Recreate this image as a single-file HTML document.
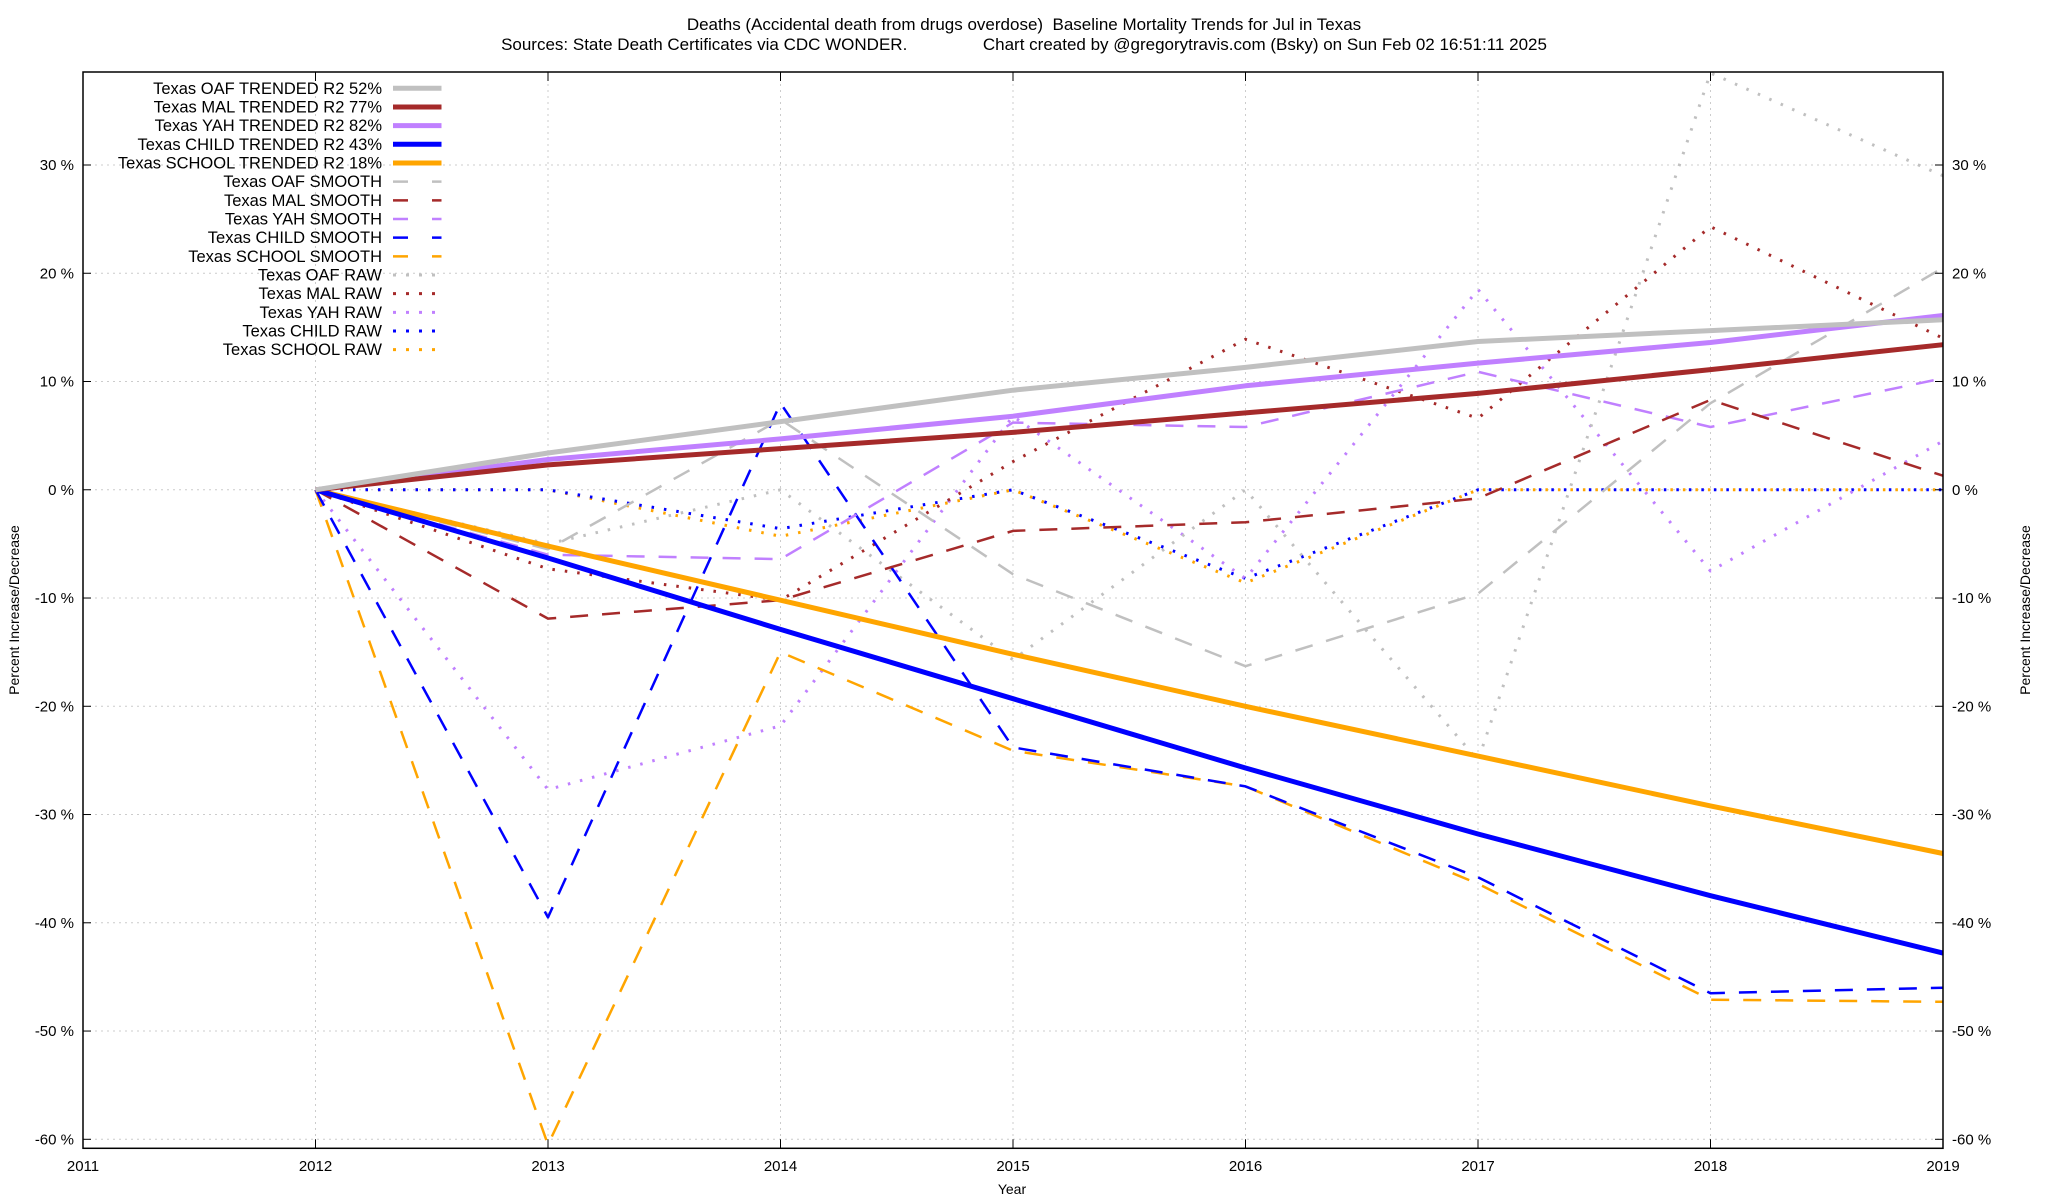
<!DOCTYPE html>
<html><head><meta charset="utf-8"><style>
html,body{margin:0;padding:0;background:#fff;}
svg{display:block;font-family:"Liberation Sans",sans-serif;}
</style></head><body>
<svg id="chart" width="2048" height="1200" viewBox="0 0 2048 1200" xmlns="http://www.w3.org/2000/svg">
<text x="1024" y="30" font-size="17" text-anchor="middle" xml:space="preserve">Deaths (Accidental death from drugs overdose)  Baseline Mortality Trends for Jul in Texas</text>
<text x="1024" y="50" font-size="17" text-anchor="middle" xml:space="preserve">Sources: State Death Certificates via CDC WONDER.                Chart created by @gregorytravis.com (Bsky) on Sun Feb 02 16:51:11 2025</text>
<g id="grid"></g>
<g id="series"></g>
<g id="legend"></g>
<rect x="83" y="72" width="1860" height="1076.3" fill="none" stroke="#000" stroke-width="1.5"/>
<g id="axes"></g>
<text x="1012" y="1194" font-size="14" text-anchor="middle">Year</text>
<text transform="translate(19,610) rotate(-90)" font-size="14" text-anchor="middle">Percent Increase/Decrease</text>
<text transform="translate(2030,610) rotate(-90)" font-size="14" text-anchor="middle">Percent Increase/Decrease</text>
</svg>
<script>
const years = [2012,2013,2014,2015,2016,2017,2018,2019];
const xTicks = [2011,2012,2013,2014,2015,2016,2017,2018,2019];
const yTicks = [-60,-50,-40,-30,-20,-10,0,10,20,30];
const oafTrend   = [0,3.4,6.3,9.2,11.3,13.7,14.7,15.7];
const malTrend   = [0,2.3,3.8,5.3,7.1,8.9,11.1,13.4];
const yahTrend   = [0,2.8,4.7,6.8,9.6,11.7,13.6,16.1];
const childTrend = [0,-6.3,-12.9,-19.3,-25.7,-31.8,-37.5,-42.8];
const schoolTrend= [0,-5.2,-10.2,-15.2,-20.0,-24.6,-29.2,-33.6];
const oafSmooth   = [0,-5.5,6.5,-7.8,-16.3,-9.6,8,20.5];
const malSmooth   = [0,-11.9,-10.2,-3.8,-3,-0.8,8.3,1.3];
const yahSmooth   = [0,-6,-6.4,6.2,5.8,10.9,5.8,10.3];
const childSmooth = [0,-39.5,8,-23.8,-27.4,-35.8,-46.5,-46];
const schoolSmooth= [0,-60.5,-15,-24.1,-27.4,-36.4,-47.1,-47.3];
const oafRaw   = [0,-5,0,-15.7,0,-25,38.5,29];
const malRaw   = [0,-7.3,-10.2,2.6,13.9,6.6,24.3,14];
const yahRaw   = [0,-27.7,-21.8,6.8,-8.2,18.5,-7.5,4.5];
const childRaw = [0,0,-3.6,0,-8.2,0,0,0];
const schoolRaw= [0,0,-4.3,0,-8.6,0,0,0];
const labels = ["Texas OAF TRENDED R2  52%","Texas MAL TRENDED R2  77%","Texas YAH TRENDED R2  82%","Texas CHILD TRENDED R2  43%","Texas SCHOOL TRENDED R2  18%","Texas OAF SMOOTH","Texas MAL SMOOTH","Texas YAH SMOOTH","Texas CHILD SMOOTH","Texas SCHOOL SMOOTH","Texas OAF RAW","Texas MAL RAW","Texas YAH RAW","Texas CHILD RAW","Texas SCHOOL RAW"];

const NS="http://www.w3.org/2000/svg";
const X0=83,X1=1943,Y30=165,Y60=1139.3,YT=72,YB=1148.3;
function xs(v){return X0+(v-2011)*(X1-X0)/8;}
function ys(v){return Y30+(30-v)*(Y60-Y30)/90;}
function mk(tag,attrs,parent){const e=document.createElementNS(NS,tag);for(const k in attrs)e.setAttribute(k,attrs[k]);parent.appendChild(e);return e;}
const grid=document.getElementById('grid'),axes=document.getElementById('axes'),ser=document.getElementById('series'),leg=document.getElementById('legend');
xTicks.forEach(t=>{
  const x=xs(t);
  const g=mk('line',{x1:x,x2:x,y1:YT,y2:YB,stroke:'#ccc','stroke-dasharray':'2,4'},grid);
  
  
  const tk=mk('line',{x1:x,x2:x,y1:YB,y2:YB-9,stroke:'#000'},axes);
  
  
  const tk2=mk('line',{x1:x,x2:x,y1:YT,y2:YT+9,stroke:'#000'},axes);
  
  
  const tx=mk('text',{x:x,y:1171,'font-size':15,'text-anchor':'middle'},axes);tx.textContent=t;
  
  
});
yTicks.forEach(t=>{
  const y=ys(t);
  const g=mk('line',{x1:X0,x2:X1,y1:y,y2:y,stroke:'#ccc','stroke-dasharray':'2,4'},grid);
  
  
  const a=mk('line',{x1:X0,x2:X0+8,y1:y,y2:y,stroke:'#000'},axes);
  
  
  const b=mk('line',{x1:X1-8,x2:X1,y1:y,y2:y,stroke:'#000'},axes);
  
  
  const l=mk('text',{x:74,y:y+5,'font-size':15,'text-anchor':'end'},axes);l.textContent=t+' %';
  
  
  const r=mk('text',{x:1952,y:y+5,'font-size':15},axes);r.textContent=t+' %';
  
  
});
const colors=['#c0c0c0','#a52a2a','#c080ff','#0000ff','#ffa500'];
const keys=['oaf','mal','yah','child','school'];
const trends=[oafTrend,malTrend,yahTrend,childTrend,schoolTrend];
const smooths=[oafSmooth,malSmooth,yahSmooth,childSmooth,schoolSmooth];
const raws=[oafRaw,malRaw,yahRaw,childRaw,schoolRaw];
const styles=[{w:5,d:null},{w:2.5,d:'18,14'},{w:3,d:'2.5,10'}];
function draw(arr,c,st,name){
  const pts=arr.map((v,i)=>xs(years[i]).toFixed(1)+','+ys(v).toFixed(1)).join(' ');
  const a={points:pts,fill:'none',stroke:c,'stroke-width':st.w,'stroke-linejoin':'round'};
  if(st.d){a['stroke-dasharray']=st.d;}
  const p=mk('polyline',a,ser);
  
  
}
for(let i=4;i>=0;i--)draw(raws[i],colors[i],styles[2],keys[i]+'-raw-line');
for(let i=4;i>=0;i--)draw(smooths[i],colors[i],styles[1],keys[i]+'-smooth-line');
for(let i=4;i>=0;i--)draw(trends[i],colors[i],styles[0],keys[i]+'-trended-line');
labels.forEach((lab,i)=>{
  const y=88.3+i*18.67;
  const c=colors[i%5];const st=styles[Math.floor(i/5)];
  const t=mk('text',{x:382,y:y+5.5,'font-size':16.5,'text-anchor':'end'},leg);t.textContent=lab;
  
  
  const a={x1:393,x2:441.5,y1:y,y2:y,stroke:c,'stroke-width':st.w};
  if(st.d)a['stroke-dasharray']=(Math.floor(i/5)===1)?'15,24':'3,10';
  const ln=mk('line',a,leg);
  
  
});
</script>
</body></html>
